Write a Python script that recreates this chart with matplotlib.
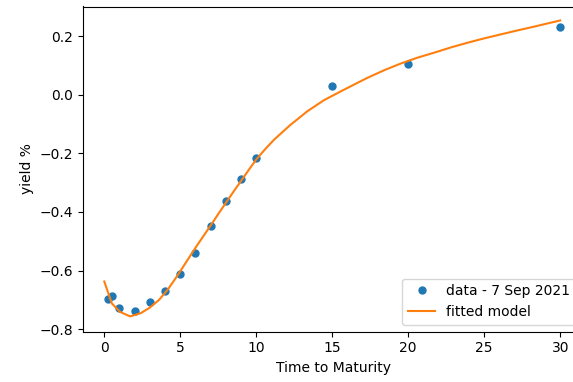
import matplotlib
matplotlib.use("Agg")
import matplotlib.pyplot as plt

# observed data
maturity = [0.25, 0.5, 1, 2, 3, 4, 5, 6, 7, 8, 9, 10, 15, 20, 30]
yields = [-0.698, -0.686, -0.727, -0.738, -0.708, -0.668, -0.611, -0.540,
          -0.448, -0.362, -0.289, -0.217, 0.031, 0.104, 0.230]

# fitted model curve
fit_x = [0.0, 0.5, 1.05, 1.7, 2.4, 3.0, 3.6, 4.2, 4.8, 5.4, 6.0, 6.5, 7.0,
         7.5, 8.0, 8.5, 9.0, 9.5, 10.0, 10.6, 11.2, 12.25, 13.35, 14.45, 15.55,
         16.65, 17.3, 18.4, 19.5, 20.6, 21.7, 22.8, 23.9, 25.0, 26.05, 27.1,
         28.2, 29.1, 30.0]
fit_y = [-0.637, -0.712, -0.741, -0.756, -0.745, -0.726, -0.700, -0.663, -0.618,
         -0.570, -0.522, -0.484, -0.446, -0.407, -0.369, -0.331, -0.294, -0.257,
         -0.221, -0.185, -0.152, -0.103, -0.057, -0.019, 0.011, 0.040, 0.057,
         0.083, 0.106, 0.126, 0.143, 0.161, 0.177, 0.192, 0.205, 0.218, 0.231,
         0.242, 0.253]

xticks = [0, 5, 10, 15, 20, 25, 30]

fig = plt.figure(figsize=(5.73, 3.82), dpi=100)
ax = fig.add_axes([83 / 573, 50.5 / 382, 500 / 573, 325 / 382])
ax.plot(maturity, yields, "o", color="#1f77b4", markersize=5, label="data - 7 Sep 2021")
ax.plot(fit_x, fit_y, "-", color="#ff7f0e", linewidth=1.5, label="fitted model")
ax.set_xlim(-1.4, 31.5)
ax.set_ylim(-0.8075, 0.3006)
ax.set_xticks(xticks)
ax.set_yticks([-0.8, -0.6, -0.4, -0.2, 0.0, 0.2])
ax.set_xlabel("Time to Maturity")
ax.set_ylabel("yield %")
ax.legend(loc="lower right")
fig.savefig("out.png", dpi=100)
